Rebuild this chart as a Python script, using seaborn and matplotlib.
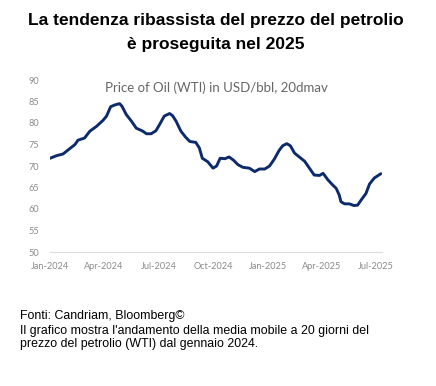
import matplotlib
matplotlib.use("Agg")
import matplotlib.pyplot as plt
import matplotlib.dates as mdates
import pandas as pd
import seaborn as sns

# WTI 20-day moving average
dates = ["2024-01-01", "2024-01-12", "2024-01-23", "2024-02-01", "2024-02-12", "2024-02-17",
         "2024-02-28", "2024-03-08", "2024-03-19", "2024-03-30", "2024-04-05", "2024-04-12",
         "2024-04-19", "2024-04-27", "2024-05-01", "2024-05-08", "2024-05-17", "2024-05-25",
         "2024-06-05", "2024-06-11", "2024-06-19", "2024-06-27", "2024-07-03", "2024-07-11",
         "2024-07-20", "2024-07-25", "2024-07-31", "2024-08-08", "2024-08-16", "2024-08-23",
         "2024-09-02", "2024-09-08", "2024-09-13", "2024-09-22", "2024-10-01", "2024-10-07",
         "2024-10-13", "2024-10-21", "2024-10-28", "2024-11-04", "2024-11-12", "2024-11-20",
         "2024-12-01", "2024-12-10", "2024-12-18", "2024-12-27", "2025-01-04", "2025-01-12",
         "2025-01-20", "2025-01-26", "2025-02-02", "2025-02-08", "2025-02-15", "2025-02-23",
         "2025-03-04", "2025-03-12", "2025-03-20", "2025-03-29", "2025-04-04", "2025-04-12",
         "2025-04-20", "2025-04-26", "2025-05-01", "2025-05-04", "2025-05-10", "2025-05-18",
         "2025-05-26", "2025-06-01", "2025-06-07", "2025-06-15", "2025-06-21", "2025-06-29",
         "2025-07-10"]
wti = [71.8, 72.4, 72.8, 73.8, 75.0, 76.0,
       76.5, 78.1, 79.2, 80.6, 81.6, 83.8,
       84.2, 84.5, 83.9, 82.0, 80.4, 78.8,
       78.1, 77.5, 77.5, 78.2, 79.6, 81.6,
       82.2, 81.7, 80.4, 78.1, 76.7, 75.7,
       75.5, 74.2, 71.8, 71.0, 69.5, 70.0,
       71.8, 71.7, 72.1, 71.4, 70.3, 69.7,
       69.5, 68.7, 69.3, 69.3, 70.0, 71.6,
       73.6, 74.7, 75.2, 74.7, 73.0, 72.1,
       71.1, 69.5, 67.9, 67.8, 68.3, 66.8,
       65.6, 64.8, 63.3, 61.7, 61.2, 61.2,
       60.8, 60.9, 62.1, 63.6, 65.8, 67.2,
       68.2]
tick_dates = ["2024-01-01", "2024-04-01", "2024-07-01", "2024-10-01",
              "2025-01-01", "2025-04-01", "2025-07-01"]
y_ticks = [50, 55, 60, 65, 70, 75, 80, 85, 90]

df = pd.DataFrame({"date": pd.to_datetime(dates), "wti": wti})

sns.set_style("white")
plt.rcParams["font.family"] = ["Liberation Sans", "DejaVu Sans"]

fig = plt.figure(figsize=(4.36, 3.86), dpi=100)
ax = fig.add_axes([50 / 436, 1 - 252 / 386, 332 / 436, 172 / 386])

sns.lineplot(data=df, x="date", y="wti", ax=ax, color="#0d2a6b", linewidth=2.1)

ax.set_ylim(50, 90)
ax.set_yticks(y_ticks)
ax.set_xlim(pd.Timestamp("2024-01-01"), pd.Timestamp("2025-07-12"))
ax.set_xticks(pd.to_datetime(tick_dates))
ax.xaxis.set_major_formatter(mdates.DateFormatter("%b-%Y"))
ax.set_xlabel("")
ax.set_ylabel("")

tick_font = ["Lato", "DejaVu Sans"]
for lbl in ax.get_xticklabels() + ax.get_yticklabels():
    lbl.set_family(tick_font)
ax.tick_params(axis="both", labelsize=6.6, colors="#8a8a8a")
ax.tick_params(axis="x", length=3, width=0.6, color="#dddddd", pad=4)
ax.tick_params(axis="y", length=0, pad=8)

for s in ["top", "right", "left"]:
    ax.spines[s].set_visible(False)
ax.spines["bottom"].set_color("#dddddd")
ax.spines["bottom"].set_linewidth(0.8)

ax.text(0.5, 0.955, "Price of Oil (WTI) in USD/bbl, 20dmav", transform=ax.transAxes,
        ha="center", va="center", fontsize=9.5, color="#666666", family=tick_font)

fig.text(216 / 436, 1 - 20 / 386, "La tendenza ribassista del prezzo del petrolio",
         ha="center", va="center", fontsize=12.5, fontweight="bold", color="black")
fig.text(216 / 436, 1 - 45 / 386, "è proseguita nel 2025",
         ha="center", va="center", fontsize=12.5, fontweight="bold", color="black")

fig.text(20 / 436, 1 - 316 / 386, "Fonti: Candriam, Bloomberg©",
         ha="left", va="center", fontsize=8.9, color="black")
fig.text(20 / 436, 1 - 331 / 386, "Il grafico mostra l'andamento della media mobile a 20 giorni del",
         ha="left", va="center", fontsize=8.9, color="black")
fig.text(20 / 436, 1 - 344 / 386, "prezzo del petrolio (WTI) dal gennaio 2024.",
         ha="left", va="center", fontsize=8.9, color="black")

fig.savefig("out.png", dpi=100)
